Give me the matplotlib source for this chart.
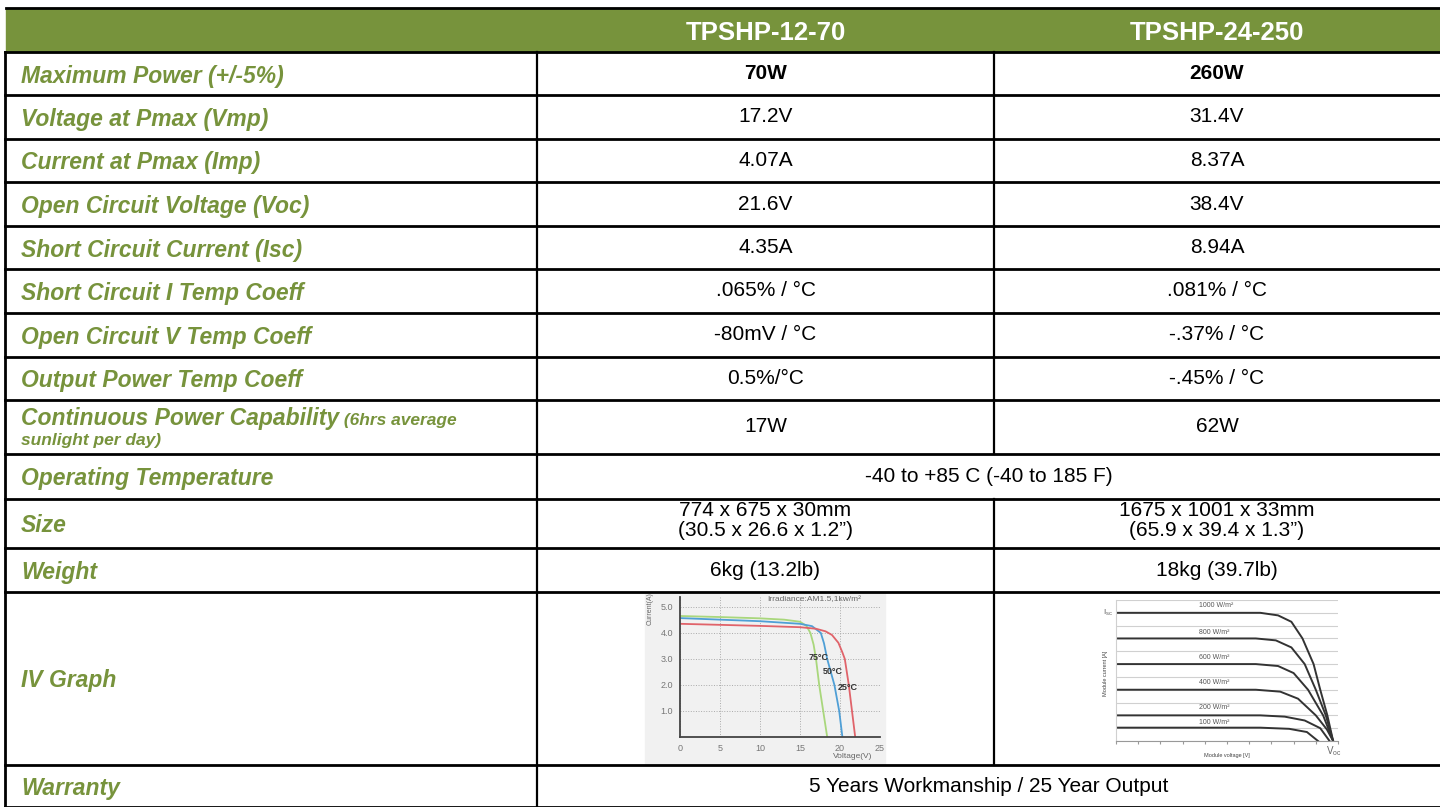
import matplotlib.pyplot as plt
from matplotlib.patches import Rectangle

plt.rcParams['font.family'] = ['Liberation Sans', 'DejaVu Sans']

# table content
models = ["TPSHP-12-70", "TPSHP-24-250"]
row_labels = ["Maximum Power (+/-5%)", "Voltage at Pmax (Vmp)", "Current at Pmax (Imp)",
              "Open Circuit Voltage (Voc)", "Short Circuit Current (Isc)", "Short Circuit I Temp Coeff",
              "Open Circuit V Temp Coeff", "Output Power Temp Coeff", "Continuous Power Capability",
              "Operating Temperature", "Size", "Weight", "IV Graph", "Warranty"]
label_note = "(6hrs average"
label_note2 = "sunlight per day)"
vals_70 = ["70W", "17.2V", "4.07A", "21.6V", "4.35A", ".065% / °C", "-80mV / °C", "0.5%/°C", "17W",
           "-40 to +85 C (-40 to 185 F)", "774 x 675 x 30mm\n(30.5 x 26.6 x 1.2”)", "6kg (13.2lb)", "",
           "5 Years Workmanship / 25 Year Output"]
vals_250 = ["260W", "31.4V", "8.37A", "38.4V", "8.94A", ".081% / °C", "-.37% / °C", "-.45% / °C", "62W",
            None, "1675 x 1001 x 33mm\n(65.9 x 39.4 x 1.3”)", "18kg (39.7lb)", "", None]

# IV graph TPSHP-12-70 (voltage V, current A)
v_25 = [0, 5, 10, 15, 17, 18.2, 19.0, 19.8, 20.3, 20.6, 21.1, 21.5, 21.9]
i_25 = [4.35, 4.31, 4.27, 4.22, 4.16, 4.06, 3.92, 3.62, 3.25, 3.0, 2.0, 1.0, 0]
v_50 = [0, 5, 10, 15, 16.5, 17.6, 18.0, 18.4, 19.3, 19.9, 20.3]
i_50 = [4.57, 4.51, 4.45, 4.35, 4.26, 4.0, 3.6, 3.0, 2.0, 1.0, 0]
v_75 = [0, 5, 10, 13, 15, 15.8, 16.3, 16.7, 17.0, 17.4, 17.9, 18.4]
i_75 = [4.65, 4.61, 4.56, 4.51, 4.43, 4.27, 4.0, 3.55, 3.0, 2.0, 1.0, 0]
temps = ["75°C", "50°C", "25°C"]

# IV graph TPSHP-24-250 (relative units)
irr_labels = ["1000 W/m²", "800 W/m²", "600 W/m²", "400 W/m²", "200 W/m²", "100 W/m²"]
irr_v = [
    [0, 6.5, 7.3, 7.9, 8.4, 8.9, 9.2, 9.52, 9.78],
    [0, 6.3, 7.2, 7.9, 8.5, 9.0, 9.45, 9.78],
    [0, 6.3, 7.3, 8.0, 8.65, 9.33, 9.78],
    [0, 6.3, 7.4, 8.2, 9.0, 9.5, 9.78],
    [0, 6.5, 7.6, 8.5, 9.2, 9.62],
    [0, 6.5, 7.8, 8.6, 9.1],
]
irr_i = [
    [10, 10, 9.8, 9.3, 8.0, 6.0, 4.0, 2.0, 0],
    [8, 8, 7.85, 7.3, 6.0, 4.0, 2.0, 0],
    [6, 6, 5.85, 5.3, 4.0, 2.0, 0],
    [4, 4, 3.85, 3.3, 2.0, 0.9, 0],
    [2, 2, 1.9, 1.6, 1.0, 0],
    [1.04, 1.04, 0.95, 0.7, 0],
]

W, H = 1440, 807
green = '#77933C'
fig = plt.figure(figsize=(14.4, 8.07), dpi=100)
ax = fig.add_axes([0, 0, 1, 1])
ax.set_xlim(0, W)
ax.set_ylim(H, 0)
ax.axis('off')

bounds = [52, 95, 139, 182, 226, 269, 313, 357, 400, 454, 499, 548, 592, 765, 807]
xl, xc1, xc2 = 5, 537, 994

# header
ax.add_patch(Rectangle((6, 8), W - 6, 44, color=green, zorder=1))
ax.plot([6, W], [8, 8], color='black', lw=2, zorder=3)
ax.text((xc1 + xc2) / 2, 30, models[0], color='white', fontsize=18.5, fontweight='bold',
        ha='center', va='center_baseline')
ax.text((xc2 + W) / 2, 30, models[1], color='white', fontsize=18.5, fontweight='bold',
        ha='center', va='center_baseline')

for b in bounds:
    ax.plot([xl, W], [b, b], color='black', lw=2, zorder=3)
ax.plot([xl, xl], [bounds[0], H], color='black', lw=2, zorder=3)
ax.plot([xc1, xc1], [bounds[0], H], color='black', lw=1.6, zorder=3)

for k, lab in enumerate(row_labels):
    y0, y1 = bounds[k], bounds[k + 1]
    yc = (y0 + y1) / 2
    if vals_250[k] is not None:
        ax.plot([xc2, xc2], [y0, y1], color='black', lw=1.6, zorder=3)
    if lab.startswith("Continuous"):
        t = ax.text(21, 425, lab, color=green, fontsize=16.5, fontweight='bold', style='italic',
                    ha='left', va='baseline')
        ax.annotate(" " + label_note, xy=(1, 425), xycoords=(t, 'data'), color=green, fontsize=12.5,
                    fontweight='bold', style='italic', ha='left', va='baseline')
        ax.text(21, 445, label_note2, color=green, fontsize=12.5, fontweight='bold', style='italic',
                ha='left', va='baseline')
    else:
        ax.text(21, yc, lab, color=green, fontsize=16.5, fontweight='bold', style='italic',
                ha='left', va='center_baseline')
    fw = 'bold' if k == 0 else 'normal'
    ty = yc - 3 if '\n' in vals_70[k] else yc
    if vals_250[k] is None:
        ax.text((xc1 + W) / 2, ty, vals_70[k], fontsize=15, fontweight=fw, ha='center',
                va='center', color='black')
    else:
        ax.text((xc1 + xc2) / 2, ty, vals_70[k], fontsize=15, fontweight=fw, ha='center',
                va='center', linespacing=1.05, color='black')
        ax.text((xc2 + W) / 2, ty, vals_250[k], fontsize=15, fontweight=fw, ha='center',
                va='center', linespacing=1.05, color='black')


def px_rect(x0, y0, x1, y1):
    return [x0 / W, 1 - y1 / H, (x1 - x0) / W, (y1 - y0) / H]


# left IV graph picture
ax.add_patch(Rectangle((645, 594), 240, 171, color='#f1f1f1', zorder=1))
g1 = fig.add_axes(px_rect(680, 597, 880, 737))
g1.set_facecolor('#f1f1f1')
g1.plot(v_75, i_75, color='#a9d77c', lw=1.3)
g1.plot(v_50, i_50, color='#4f9fd6', lw=1.3)
g1.plot(v_25, i_25, color='#e0636a', lw=1.3)
g1.set_xlim(0, 25)
g1.set_ylim(0, 5.38)
g1.set_xticks([0, 5, 10, 15, 20, 25])
g1.set_yticks([1, 2, 3, 4, 5])
g1.set_yticklabels(['1.0', '2.0', '3.0', '4.0', '5.0'])
g1.tick_params(length=0, labelsize=6.5, labelcolor='#777', pad=5)
g1.grid(True, color='#aaa', ls=':', lw=0.7)
for s in ['top', 'right']:
    g1.spines[s].set_visible(False)
for s in ['left', 'bottom']:
    g1.spines[s].set_color('#444')
    g1.spines[s].set_linewidth(1.3)
g1.text(17.3, 3.05, temps[0], fontsize=6.5, fontweight='bold', color='#333', ha='center', va='center')
g1.text(19.1, 2.5, temps[1], fontsize=6.5, fontweight='bold', color='#333', ha='center', va='center')
g1.text(21.0, 1.9, temps[2], fontsize=6.5, fontweight='bold', color='#333', ha='center', va='center')
fig.text(814, 600, "Irradiance:AM1.5,1kw/m²", transform=ax.transData, fontsize=6, color='#666',
         ha='center', va='center')
fig.text(650, 609, "Current(A)", transform=ax.transData, fontsize=5, color='#666',
         ha='center', va='center', rotation=90)
fig.text(853, 756, "Voltage(V)", transform=ax.transData, fontsize=6, color='#666',
         ha='center', va='center')

# right IV graph picture
g2 = fig.add_axes(px_rect(1116, 600, 1338, 741))
g2.set_facecolor('none')
for vv, ii in zip(irr_v, irr_i):
    g2.plot(vv, ii, color='#333', lw=1.4)
g2.set_xlim(0, 10)
g2.set_ylim(0, 11)
g2.set_xticks(range(11))
g2.set_yticks(range(12))
g2.tick_params(axis='x', length=2, color='#999', labelbottom=False)
g2.tick_params(axis='y', length=0, labelleft=False)
g2.grid(True, axis='y', color='#d0d0d0', lw=0.8)
for s in ['top', 'right']:
    g2.spines[s].set_visible(False)
g2.spines['left'].set_color('#d0d0d0')
g2.spines['bottom'].set_color('#999')
for lab, iy in zip(irr_labels, [10.57, 8.49, 6.55, 4.57, 2.65, 1.48]):
    g2.text(3.75, iy, lab, fontsize=5, color='#555', ha='left', va='center')
g2.text(-0.35, 10, r'$\mathregular{I_{sc}}$', fontsize=6, color='#666', ha='center', va='center')
g2.text(9.8, -0.75, r'$\mathregular{V_{oc}}$', fontsize=7, color='#666', ha='center', va='center')
ax.text(1106, 673, "Module current [A]", fontsize=4, color='#444', ha='center', va='center', rotation=90)
ax.text(1227, 755, "Module voltage [V]", fontsize=4, color='#444', ha='center', va='center')

fig.savefig('out.png', dpi=100)
